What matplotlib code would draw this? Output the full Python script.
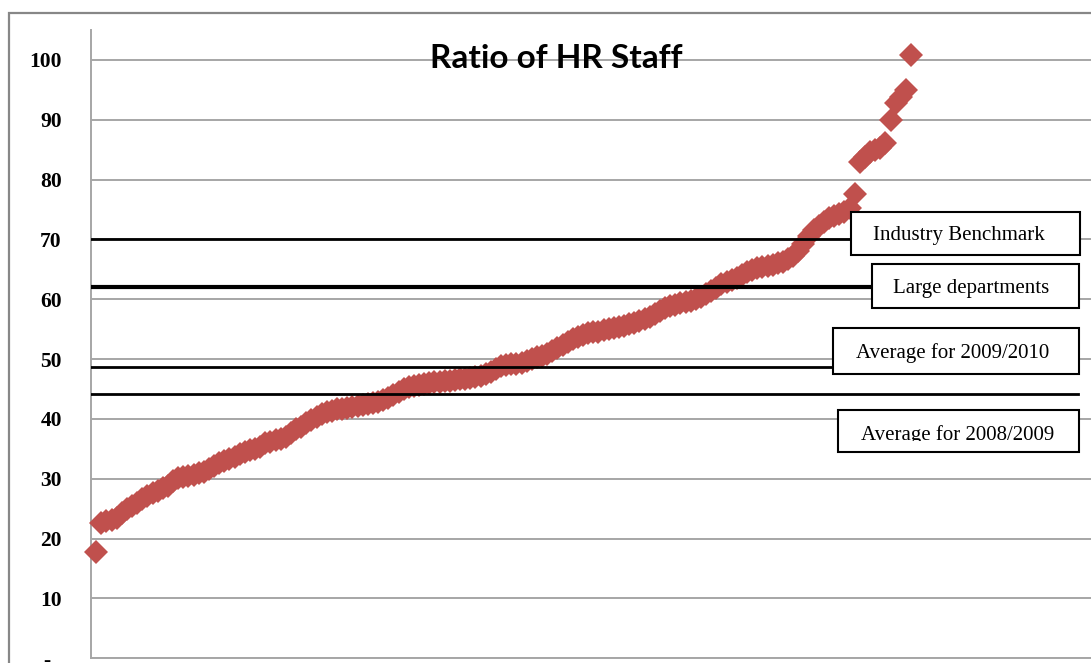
import numpy as np
import matplotlib
matplotlib.use("Agg")
import matplotlib.pyplot as plt
from matplotlib.patches import Rectangle
from matplotlib.transforms import Bbox, TransformedBbox

# ratio of HR staff per department, sorted low to high
ratio = [
    17.8, 22.6, 22.9, 23.1, 23.4, 24.2, 24.9, 25.4, 26.0, 26.6,
    27.2, 27.6, 28.0, 28.4, 28.8, 29.6, 30.1, 30.3, 30.5, 30.7,
    30.9, 31.1, 31.6, 32.1, 32.6, 33.0, 33.3, 33.7, 34.1, 34.5,
    34.8, 35.0, 35.3, 35.9, 36.2, 36.5, 36.7, 37.0, 37.6, 38.3,
    38.6, 39.3, 39.9, 40.4, 40.8, 41.1, 41.4, 41.6, 41.7, 41.8,
    42.0, 42.1, 42.3, 42.5, 42.7, 42.9, 43.1, 43.5, 44.0, 44.5,
    45.0, 45.3, 45.5, 45.6, 45.8, 46.0, 46.1, 46.2, 46.3, 46.4,
    46.5, 46.6, 46.7, 46.8, 47.0, 47.2, 47.5, 47.9, 48.4, 48.8,
    49.0, 49.1, 49.2, 49.4, 49.7, 50.0, 50.3, 50.6, 50.9, 51.3,
    51.8, 52.4, 52.9, 53.3, 53.7, 54.0, 54.3, 54.5, 54.6, 54.8,
    55.0, 55.2, 55.4, 55.6, 55.8, 56.0, 56.3, 56.7, 57.1, 57.5,
    58.0, 58.5, 58.8, 59.1, 59.3, 59.5, 59.7, 60.0, 60.4, 60.9,
    61.4, 61.9, 62.5, 62.9, 63.3, 63.6, 64.0, 64.5, 64.9, 65.2,
    65.4, 65.6, 65.8, 66.0, 66.3, 66.7, 67.2, 68.0, 69.2, 70.5,
    71.5, 72.2, 72.9, 73.5, 73.9, 74.3, 74.6, 75.2, 77.6, 83.0,
    83.8, 84.6, 85.0, 85.3, 86.1, 89.9, 92.8, 93.8, 95.0, 100.8,
]

ref_labels = ["Industry Benchmark", "Large departments", "Average for 2009/2010", "Average for 2008/2009"]
ref_values = [70, 62, 48.6, 44.1]

yticks = [0, 10, 20, 30, 40, 50, 60, 70, 80, 90, 100]
ytick_labels = ["-  ", "10", "20", "30", "40", "50", "60", "70", "80", "90", "100"]

W, H = 1091, 663
fig = plt.figure(figsize=(W / 100, H / 100), dpi=100)

def fx(px):   # pixel x -> figure fraction
    return px / W

def fy(py):   # pixel y (from top) -> figure fraction
    return (H - py) / H

# chart area border, cropped on the right and bottom
fig.patches.append(Rectangle((fx(9), -0.2), 1.5, fy(13) + 0.2, transform=fig.transFigure,
                             fill=False, edgecolor="#878787", lw=1.6))

ax_left, ax_right, ax_top, ax_bottom = 91, 1116, 30, 658.3
ax = fig.add_axes([fx(ax_left), fy(ax_bottom), fx(ax_right - ax_left), (ax_bottom - ax_top) / H])

x = np.arange(1, len(ratio) + 1)
ax.plot(x, ratio, linestyle="none", marker="D", markersize=12, markeredgewidth=0,
        color="#C0504D", zorder=3, clip_on=False)

ax.set_xlim(0, 200)
ax.set_ylim(0, 105)
ax.set_yticks(yticks)
ax.set_yticklabels(ytick_labels, family="Liberation Serif", fontsize=15.5, fontweight="bold")
ax.tick_params(axis="y", length=0, pad=21)
ax.set_xticks([])
ax.grid(axis="y", color="#a6a6a6", lw=1.4)
ax.set_axisbelow(True)
for side in ["top", "right"]:
    ax.spines[side].set_visible(False)
for side in ["left", "bottom"]:
    ax.spines[side].set_color("#a6a6a6")
    ax.spines[side].set_linewidth(1.4)

# reference lines end at the left edge of their text boxes
boxes = [(851, 212, 1080, 255), (872, 264, 1079, 308), (833, 328, 1079, 374), (838, 410, 1079, 452)]
line_ends = [851, 872, 833, 1078]
line_widths = [2.0, 3.0, 2.0, 2.0]
for val, end, lw in zip(ref_values, line_ends, line_widths):
    ax.axhline(val, xmin=0, xmax=(end - ax_left) / (ax_right - ax_left), color="black", lw=lw, zorder=4)

text_pos = [(959, 236), (971, 288), (953, 353), (958, 435)]
for label, (x0, y0, x1, y1), (tx, ty) in zip(ref_labels, boxes, text_pos):
    fig.patches.append(Rectangle((fx(x0), fy(y1)), fx(x1 - x0), (y1 - y0) / H, transform=fig.transFigure,
                                 facecolor="white", edgecolor="black", lw=1.5, zorder=5))
    t = fig.text(fx(tx), fy(ty), label, ha="center", va="center", family="Liberation Serif",
                 fontsize=15, zorder=6)
    if label == "Average for 2008/2009":   # text is cut off by its box in the original
        t.set_clip_box(TransformedBbox(Bbox([[fx(x0), fy(441)], [fx(x1), fy(y0)]]), fig.transFigure))
        t.set_clip_on(True)

fig.text(fx(556), fy(59), "Ratio of HR Staff", ha="center", va="center", family="Lato",
         fontweight="bold", fontsize=24)

fig.savefig("out.png", dpi=100)
